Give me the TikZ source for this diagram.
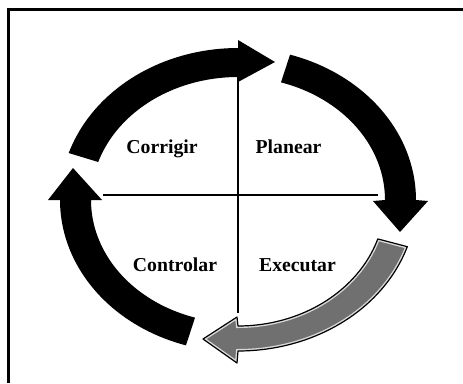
\documentclass[tikz,border=0pt]{standalone}
\usepackage{fontspec}
\setmainfont{Liberation Serif}
\begin{document}
\begin{tikzpicture}[x=1bp,y=-1bp,
  lbl/.style={anchor=base, inner sep=0pt, font=\fontsize{19.8}{20}\selectfont\bfseries},
  axis/.style={line width=1.4bp, black},
  cyc/.style={fill=black},
  frameline/.style={line width=3bp, black}]
\useasboundingbox (0,0) rectangle (463,383);
\fill[white] (0,0) rectangle (463,383);
% frame (only top and left edges visible)
\draw[frameline] (8.5,383) -- (8.5,9.5) -- (463,9.5);
% axes
\coordinate (hl) at (103,195);
\coordinate (hr) at (378,195);
\coordinate (vt) at (238,50);
\coordinate (vb) at (238,313);
\draw[axis] (hl) -- (hr);
\draw[axis] (vt) -- (vb);
% top arrow (Corrigir -> Planear)
\fill[cyc] plot[domain=198:270, samples=40] ({238+178*cos(\x)},{200+152*sin(\x)})
  -- (238,40) -- (275,62) -- (238,82)
  -- plot[domain=270:198, samples=40] ({238+147*cos(\x)},{200+123*sin(\x)}) -- cycle;
% right arrow (Planear -> Executar)
\fill[cyc] plot[domain=287:360, samples=40] ({238+178*cos(\x)},{200+152*sin(\x)})
  -- (428,201) -- (400,232) -- (373,201)
  -- plot[domain=360:287, samples=40] ({238+147*cos(\x)},{200+123*sin(\x)}) -- cycle;
% left arrow (Controlar -> Corrigir)
\fill[cyc] plot[domain=107:180, samples=40] ({238+178*cos(\x)},{200+152*sin(\x)})
  -- (48,200) -- (73,168) -- (102,200)
  -- plot[domain=180:107, samples=40] ({238+147*cos(\x)},{200+123*sin(\x)}) -- cycle;
% gray arrow (Executar -> Controlar)
\def\grayarrow{plot[domain=18:90, samples=40] ({238+178*cos(\x)},{200+151*sin(\x)})
  -- (237,363) -- (203,339) -- (237,317)
  -- plot[domain=90:18, samples=40] ({238+147*cos(\x)},{200+126*sin(\x)}) -- cycle}
\begin{scope}
  \clip \grayarrow;
  \fill[black!56] \grayarrow;
  \draw[white!85!black, line width=4bp] \grayarrow;
\end{scope}
\draw[black, line width=1.2bp, line join=round] \grayarrow;
% labels
\node[lbl] (corrigir) at (162,153) {Corrigir};
\node[lbl] (planear) at (288.5,153) {Planear};
\node[lbl] (controlar) at (175,271) {Controlar};
\node[lbl] (executar) at (297.5,271) {Executar};
\end{tikzpicture}
\end{document}
